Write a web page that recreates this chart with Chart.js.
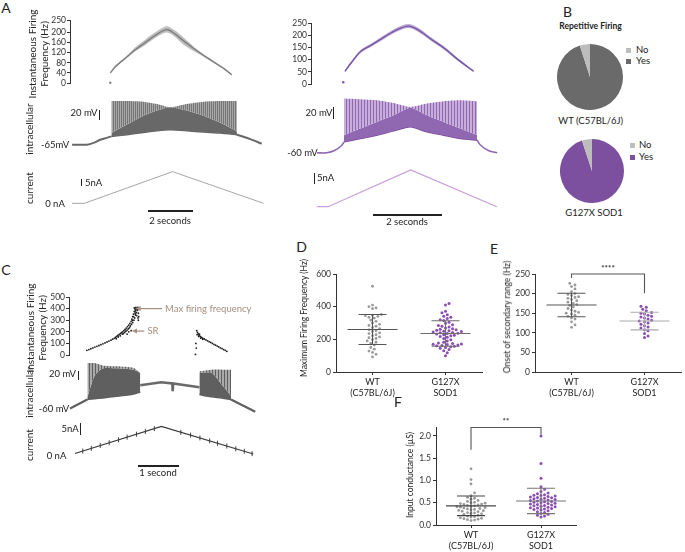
<!DOCTYPE html>
<html><head><meta charset="utf-8">
<script src="https://cdn.jsdelivr.net/npm/chart.js@4.4.0/dist/chart.umd.min.js"></script>
<style>
body{margin:0;width:685px;height:552px;position:relative;background:#fff;overflow:hidden;font-family:Lato,'Liberation Sans',sans-serif;color:#222}
canvas{position:absolute}
.t{position:absolute;white-space:nowrap;line-height:1.15;text-align:center}
.bar{position:absolute;background:#222}
.sq{position:absolute;width:5px;height:5px}
</style></head><body>
<script>
// ---------------- DATA ----------------
// Panel A, WT (C57BL/6J) – time in s, frequency in Hz, membrane potential in mV, current in nA
const wtFreqT   = [1.22,1.47,1.92,2.37,2.82,3.27,3.80,4.17,4.62,5.23,5.82,6.43,6.80];
const wtFreqMid = [40,66,99,132,160,188,212,196,165,126,92,58,33];
const wtFreqHi  = [42,70,103,142,172,200,225,210,178,132,96,61,36];
const wtFreqLo  = [38,62,95,126,150,178,200,185,150,118,88,55,30];
const wtFreqStrayT = [1.22], wtFreqStray = [1];
const wtSpikeT  = [1.22,1.92,2.67,3.27,3.87,4.62,5.37,6.13,6.88];
const wtSpikePeak   = [28.6,28.6,27.2,22.2,15.1,22.2,27.2,28.6,28.6];
const wtSpikeDense  = [-40.2,-22,-3,8,15.1,8,-3,-18,-36.6];
const wtSpikeTrough = [-47.3,-43.7,-38.8,-35.2,-33.1,-35.2,-38,-40.2,-43.7];
const wtPreT = [-0.55,0.12,0.45,0.72,1.0,1.22],  wtPre = [-65,-65,-60.5,-54.4,-50.5,-47.3];
const wtPostT = [6.88,7.48,8.0],         wtPost = [-43.7,-53,-62.9];
const wtCurT = [-0.55,0,3.98,8.08],      wtCur = [0,0,24,0];

// Panel A, G127X SOD1
const gFreqT   = [0.51,0.69,0.98,1.31,1.70,2.04,2.38,2.67,3.05,3.44,3.83,4.31];
const gFreqMid = [52,86,134,161,195,222,237,222,184,147,102,52];
const gFreqHi  = [56,92,140,168,203,231,246,231,192,154,108,56];
const gFreqLo  = [48,80,128,155,188,214,229,214,177,140,96,48];
const gFreqStrayT = [0.46], gFreqStray = [7];
const gSpikeT  = [0.46,0.93,1.41,1.89,2.38,2.86,3.34,3.83,4.31];
const gSpikePeak   = [33.5,32.3,30.6,26,19.2,25,28.9,30.6,28.9];
const gSpikeDense  = [-29.2,-17.8,-6.5,5,18,5,-6.5,-17.8,-29.2];
const gSpikeTrough = [-40.7,-34.9,-29.2,-21.9,-15,-23.6,-29.2,-34.9,-37.8];
const gPreT = [-0.32,-0.04,0.2,0.40,0.46], gPre = [-59.5,-59.5,-55,-46.5,-40.7];
const gPostT = [4.31,4.41,4.65,4.89],      gPost = [-37.8,-46.5,-56,-59.5];
const gCurT = [-0.32,0,2.39,4.88],         gCur = [0,0,17.2,0];

// Panel C
const cFreqT = [0.42,0.47,0.52,0.57,0.62,0.67,0.72,0.77,0.82,0.87,0.92,0.97,1.02,1.06,1.10,1.13,1.16,1.19,1.22,1.25,1.28,1.31,1.34,1.37,1.40,1.43,1.46,1.49,1.52,1.54,1.56,1.58,1.60,1.62,1.64,1.66,1.68,1.70,1.71,
  1.15,1.20,1.25,1.30,1.33,1.36,1.39,1.42,1.45,1.48,1.50,1.53,1.56,1.59,1.61,1.63,1.65,1.67,1.69,1.60,1.63,1.66,1.69,1.70,1.55,1.58,1.62,1.52,1.42,1.46,
  3.12,3.13,3.14,3.15,3.17,3.19,3.21,3.24,3.27,3.30,3.34,3.38,3.42,3.46,3.50,3.54,3.58,3.62,3.66,3.70,3.74,3.78,3.82,3.86,3.90,3.16,3.20,3.22,3.25,3.30];
const cFreq = [40,47,54,61,68,75,82,89,96,104,112,120,128,136,144,152,160,168,176,184,192,200,210,220,232,245,258,272,290,310,330,352,375,395,410,400,385,360,330,
  140,155,165,180,185,195,205,215,225,235,250,265,280,300,320,345,365,390,410,405,380,340,320,300,300,330,360,210,180,200,
  5,100,60,210,195,182,170,160,152,145,138,130,122,115,108,100,92,85,77,70,62,55,47,40,32,175,160,180,145,135];
const cSpike1T = [0.42,0.6,0.8,1.14,1.55,1.71];
const cSpike1Peak = [64.5,64.5,58,55.4,50.8,37.2];
const cSpike1Dense = [-30,30,50,50,46,37.2];
const cSpike1Trough = [-35.5,-33,-30.9,-26.5,-20,-14.6];
const cPlateauT = [1.71,2.22,2.49,2.5,2.51,3.15], cPlateau = [3.6,11.7,8.5,-12.8,8.3,-1.9];
const cSpike2T = [3.15,3.45,3.7,3.92];
const cSpike2Peak = [41.7,46.3,46.3,46.3];
const cSpike2Dense = [37,38,5,-25];
const cSpike2Trough = [-21.9,-28,-31,-35.5];
const cPreT = [0,0.42], cPre = [-60,-35.5];
const cPostT = [3.92,4.51], cPost = [-35.5,-69.1];
const cCurT = [0,2.22,4.58], cCur = [0,14.6,-0.3];
const cTickT = [0.2,0.42,0.65,0.88,1.12,1.34,1.58,1.81,2.04,2.72,2.97,3.21,3.46,3.66,3.9,4.13,4.35,4.55];
const cTickI = [1.3,2.8,4.3,5.8,7.4,8.8,10.4,11.9,13.4,11.4,9.9,8.4,6.8,5.5,4.0,2.5,1.2,-0.1];
const cArrows = [{text:'Max firing frequency', tip:[1.63,400], tail:[2.29,400]}, {text:'SR', tip:[1.54,206], tail:[1.85,206]}];

// Panel B – repetitive firing counts [Yes, No]
const pieLabels = ['Yes','No'];
const pieWT = [38,2];
const pieG = [56,3];

// Panels D, E, F
const groupLabels = [['WT','(C57BL/6J)'],['G127X','SOD1']];
const dWT = [525,410,400,392,388,352,348,345,340,335,330,318,310,300,292,285,280,272,265,258,252,248,240,235,228,222,215,210,205,198,190,182,175,165,150,140,128,120,108,92];
const dG  = [420,410,372,362,350,342,335,328,320,315,305,298,290,285,280,275,270,265,262,258,255,252,250,248,245,242,240,238,235,232,228,225,222,218,212,205,198,190,182,178,175,172,170,168,165,162,160,158,155,150,145,138,130,118,100];
const dMean = [260,236], dSD = [92,78];
const eWT = [226,222,218,212,205,200,198,195,192,190,188,185,182,178,175,172,170,166,162,158,155,152,150,148,145,142,138,135,128,120,114];
const eG  = [168,165,160,156,152,150,148,145,142,140,138,135,132,130,128,125,122,118,115,112,108,105,98,92,88];
const eMean = [171,130], eSD = [30,22.5];
const fWT = [1.26,1.02,0.92,0.72,0.66,0.62,0.6,0.58,0.55,0.53,0.51,0.5,0.49,0.48,0.47,0.46,0.45,0.44,0.43,0.42,0.41,0.4,0.39,0.38,0.37,0.36,0.35,0.34,0.33,0.32,0.31,0.3,0.28,0.27,0.26,0.25,0.24,0.22,0.2,0.19,0.18,0.16,0.15,0.14,0.13,0.12,0.11,0.1];
const fG  = [2.0,1.38,1.05,0.86,0.8,0.75,0.72,0.7,0.68,0.67,0.66,0.65,0.64,0.63,0.62,0.61,0.6,0.59,0.58,0.57,0.56,0.55,0.54,0.53,0.52,0.51,0.5,0.49,0.48,0.47,0.46,0.45,0.44,0.43,0.42,0.41,0.4,0.39,0.38,0.37,0.36,0.35,0.34,0.32,0.3,0.28,0.26,0.24,0.22,0.2,0.18];
const fMean = [0.43,0.54], fSD = [0.22,0.285];
const eSig = {y:250, drops:[240,201], text:'****'};
const fSig = {y:2.19, drops:[1.69,2.03], text:'**'};

// ---------------- helpers ----------------
Chart.defaults.font.family = "Lato, 'Liberation Sans', sans-serif";
Chart.defaults.color = '#333';
const xy = (ts, vs) => ts.map((t,i)=>({x:t,y:vs[i]}));
function mk(left, top, w, h){
  const c=document.createElement('canvas');
  left=Math.round(left); top=Math.round(top); w=Math.round(w); h=Math.round(h);
  c.style.left=left+'px'; c.style.top=top+'px'; c.style.width=w+'px'; c.style.height=h+'px';
  c.width=w; c.height=h; document.body.appendChild(c); return c;
}
function txt(html, x, y, o={}){
  const d=document.createElement('div'); d.className='t'; d.innerHTML=html;
  d.style.left=x+'px'; d.style.top=y+'px'; d.style.fontSize=(o.size||9.5)+'px';
  if(o.bold) d.style.fontWeight='bold'; if(o.color) d.style.color=o.color;
  const ax=o.align==='left'?'0':o.align==='right'?'-100%':'-50%';
  d.style.transform='translate('+ax+',-50%)'+(o.rot?' rotate(-90deg)':'');
  document.body.appendChild(d);
}
function bar(x,y,w,h){const d=document.createElement('div');d.className='bar';d.style.left=x+'px';d.style.top=y+'px';d.style.width=w+'px';d.style.height=h+'px';document.body.appendChild(d);}
function stripes(light, dark, period){
  const p=document.createElement('canvas'); p.width=period; p.height=1; const g=p.getContext('2d');
  g.fillStyle=light; g.fillRect(0,0,period,1); g.fillStyle=dark; g.fillRect(0,0,1,1);
  return g.createPattern(p,'repeat');
}
const baseOpts = () => ({responsive:false, animation:false, devicePixelRatio:1, events:[],
  plugins:{legend:{display:false}, tooltip:{enabled:false}}, elements:{point:{radius:0}}});

function traceChart(col, yc, xr, datasets, plugins){
  const left = col.origin + xr[0]*col.pps, w = (xr[1]-xr[0])*col.pps;
  const top = yc.px0 - (yc.vmax - yc.v0)*yc.ppu, h = (yc.vmax-yc.vmin)*yc.ppu;
  const o = baseOpts(); o.layout={padding:0};
  o.scales={x:{type:'linear',display:false,min:xr[0],max:xr[1]}, y:{display:false,min:yc.vmin,max:yc.vmax}};
  return new Chart(mk(left,top,w,h), {type:'line', data:{datasets}, options:o, plugins:plugins||[]});
}
function freqChart(col, axisX, yc, xmax, ticks, datasets, plugins){
  const W=32, padT=8, padB=8;
  const xmin=(axisX-col.origin)/col.pps;
  const left=axisX-W, width=W+(xmax-xmin)*col.pps;
  const top=yc.px0-yc.vmax*yc.ppu-padT, height=yc.vmax*yc.ppu+padT+padB;
  const o=baseOpts(); o.layout={padding:{top:padT,bottom:padB,left:0,right:0}};
  o.scales={x:{type:'linear',display:false,min:xmin,max:xmax},
    y:{min:0,max:yc.vmax,afterFit:s=>{s.width=W;},afterBuildTicks:s=>{s.ticks=ticks.map(v=>({value:v}));},
      border:{display:true,color:'#333',width:1},
      grid:{display:true,drawOnChartArea:false,drawTicks:true,tickLength:3,color:'#333'},
      ticks:{autoSkip:false,font:{size:8.5},color:'#333',padding:1}}};
  return new Chart(mk(left,top,width,height), {type:'line', data:{datasets}, options:o, plugins:plugins||[]});
}
function band(T,hi,lo,mid,stray,strayV,bandCol,lineCol){
  return [
    {data:xy(T,hi), fill:'+1', backgroundColor:bandCol, borderWidth:0, tension:0.3, clip:false},
    {data:xy(T,lo), fill:false, borderWidth:0, tension:0.3, clip:false},
    {data:xy(T,mid), fill:false, borderColor:lineCol, borderWidth:1.4, tension:0.3, clip:false},
    {data:xy(stray,strayV), showLine:false, pointRadius:1.2, backgroundColor:lineCol, borderWidth:0, clip:false}
  ];
}
function spikes(T,peak,dense,trough,pat,dark,troughCol){
  return [
    {data:xy(T,peak), fill:'+1', backgroundColor:pat, borderWidth:0, tension:0.2, clip:false},
    {data:xy(T,dense), fill:'+1', backgroundColor:dark, borderWidth:0, tension:0.2, clip:false},
    {data:xy(T,trough), fill:false, borderColor:troughCol, borderWidth:1.5, tension:0.2, clip:false}
  ];
}
const line = (T,V,col,w,ten) => ({data:xy(T,V), fill:false, borderColor:col, borderWidth:w, tension:ten||0, clip:false});

// column geometry (pixel position of t=0 and pixels per second)
const colA={origin:84,pps:22.2}, colB={origin:328,pps:34.5}, colC={origin:70,pps:41};

// ---------------- Panel A ----------------
const GRAY='#686868', PUR='#7a4a9d', PURL='#c7aedb', PURM='#9068b2';
freqChart(colA, 70, {px0:83.3, ppu:0.2532, vmax:250}, 8.1, [0,40,80,120,160,200,250],
  band(wtFreqT,wtFreqHi,wtFreqLo,wtFreqMid,wtFreqStrayT,wtFreqStray,'rgba(125,125,125,0.5)','#808080'));
traceChart(colA, {px0:145, v0:-65, ppu:0.47, vmin:-70, vmax:35}, [-0.6,8.1], [
  ...spikes(wtSpikeT,wtSpikePeak,wtSpikeDense,wtSpikeTrough,stripes('#a8a8a8','#767676',2),GRAY,GRAY),
  line(wtPreT,wtPre,GRAY,2,0.3), line(wtPostT,wtPost,GRAY,2,0.3)]);
traceChart(colA, {px0:204, v0:0, ppu:1.33, vmin:-2, vmax:26}, [-0.6,8.1], [line(wtCurT,wtCur,'#a6a6a6',1)]);

freqChart(colB, 311, {px0:84.3, ppu:0.244, vmax:250}, 5.0, [0,50,100,150,200,250],
  band(gFreqT,gFreqHi,gFreqLo,gFreqMid,gFreqStrayT,gFreqStray,'rgba(122,85,168,0.5)','#7a55a8'));
traceChart(colB, {px0:153, v0:-60, ppu:0.585, vmin:-65, vmax:38}, [-0.35,5.0], [
  ...spikes(gSpikeT,gSpikePeak,gSpikeDense,gSpikeTrough,stripes(PURL,PURM,3),PURM,PUR),
  line(gPreT,gPre,PURM,1.6,0.3), line(gPostT,gPost,PURM,1.6,0.3)]);
traceChart(colB, {px0:206, v0:0, ppu:2.13, vmin:-2, vmax:19}, [-0.35,5.0], [line(gCurT,gCur,'#c89ddb',1.2)]);

// ---------------- Panel C ----------------
const arrowPlugin = {id:'arrows', afterDatasetsDraw(chart){
  const {ctx, scales:{x,y}} = chart; ctx.save();
  ctx.strokeStyle='#a48f80'; ctx.fillStyle='#a48f80'; ctx.lineWidth=1.2;
  ctx.font="9.5px Lato, 'Liberation Sans', sans-serif"; ctx.textBaseline='middle';
  cArrows.forEach(a=>{
    const x1=x.getPixelForValue(a.tail[0]), y1=y.getPixelForValue(a.tail[1]);
    const x2=x.getPixelForValue(a.tip[0]), y2=y.getPixelForValue(a.tip[1]);
    ctx.beginPath(); ctx.moveTo(x1,y1); ctx.lineTo(x2+3,y2); ctx.stroke();
    ctx.beginPath(); ctx.moveTo(x2,y2); ctx.lineTo(x2+5,y2-2.5); ctx.lineTo(x2+5,y2+2.5); ctx.closePath(); ctx.fill();
    ctx.fillText(a.text, x1+3, y1);
  }); ctx.restore();
}};
freqChart(colC, 69, {px0:355, ppu:0.1167, vmax:500}, 4.65, [0,100,200,300,400,500],
  [{data:xy(cFreqT,cFreq), showLine:false, pointRadius:0.9, backgroundColor:'#1a1a1a', borderWidth:0, clip:false}], [arrowPlugin]);
traceChart(colC, {px0:409, v0:-60, ppu:0.367, vmin:-75, vmax:70}, [-0.05,4.65], [
  ...spikes(cSpike1T,cSpike1Peak,cSpike1Dense,cSpike1Trough,stripes('#a9a9a9','#5e5e5e',3),'#5f5f5f','#5f5f5f'),
  ...spikes(cSpike2T,cSpike2Peak,cSpike2Dense,cSpike2Trough,stripes('#a9a9a9','#5e5e5e',3),'#5f5f5f','#5f5f5f'),
  line(cPlateauT,cPlateau,'#6a6a6a',2.6), line(cPreT,cPre,'#5f5f5f',2.2), line(cPostT,cPost,'#5f5f5f',2.2)]);
traceChart(colC, {px0:457, v0:0, ppu:2.33, vmin:-3, vmax:17}, [-0.05,4.65], [
  line(cCurT,cCur,'#3a3a3a',1.1),
  {data:xy(cTickT,cTickI), showLine:false, pointStyle:'line', rotation:90, pointRadius:2.5, borderColor:'#444', borderWidth:1, clip:false}]);

// ---------------- Panel B (pies) ----------------
function pie(cx,cy,r,data,colors){
  const o=baseOpts(); o.layout={padding:0};
  new Chart(mk(cx-r,cy-r,2*r,2*r), {type:'pie', data:{labels:pieLabels, datasets:[{data, backgroundColor:colors, borderWidth:0}]}, options:o});
}
pie(590,76.5,33,pieWT,['#6a6a6a','#bdbdbd']);
pie(592.3,170.7,32,pieG,['#7d4f9f','#bdbdbd']);

// ---------------- Panels D, E, F ----------------
function swarm(vals, cat, ppu, ppx, d){
  const placed=[], out=[]; const step=d*0.55;
  vals.slice().sort((a,b)=>a-b).forEach(v=>{
    const py=v*ppu; let off=0;
    for(let k=0;k<60;k++){
      off=(k%2?1:-1)*Math.ceil(k/2)*step;
      if(!placed.some(p=>(p.x-off)**2+(p.y-py)**2<d*d)) break;
    }
    placed.push({x:off,y:py}); out.push({x:cat+off/ppx, y:v});
  });
  return out;
}
function dotChart(cfg){
  const W=30, H=cfg.H;
  const left=cfg.axisX-W, width=cfg.right-left;
  const top=cfg.topPx-cfg.padTop, height=(cfg.botPx-cfg.topPx)+cfg.padTop+H;
  const ppu=(cfg.botPx-cfg.topPx)/cfg.ymax, ppx=(cfg.right-cfg.axisX)/2;
  const o=baseOpts(); o.layout={padding:{top:cfg.padTop,left:0,right:0,bottom:0}};
  o.scales={
    x:{type:'linear',min:0.5,max:2.5,afterFit:s=>{s.height=H;},afterBuildTicks:s=>{s.ticks=[{value:1},{value:2}];},
       border:{display:true,color:'#333',width:1},grid:{display:true,drawOnChartArea:false,drawTicks:true,tickLength:3,color:'#333'},
       ticks:{callback:v=>groupLabels[v-1],font:{size:9},color:'#222',padding:2,maxRotation:0}},
    y:{min:0,max:cfg.ymax,afterFit:s=>{s.width=W;},afterBuildTicks:s=>{s.ticks=cfg.yTicks.map(v=>({value:v}));},
       border:{display:true,color:'#333',width:1},grid:{display:true,drawOnChartArea:false,drawTicks:true,tickLength:3,color:'#333'},
       ticks:{callback:cfg.fmt,font:{size:8.5},color:'#333',padding:2,autoSkip:false}}};
  const statPlugin={id:'stat', afterDatasetsDraw(chart){
    const {ctx, scales:{x,y}}=chart; ctx.save(); ctx.lineWidth=1.1;
    cfg.mean.forEach((m,i)=>{
      const cx=x.getPixelForValue(i+1), pm=y.getPixelForValue(m), hi=y.getPixelForValue(m+cfg.sd[i]), lo=y.getPixelForValue(m-cfg.sd[i]);
      ctx.strokeStyle=cfg.lineCols[i]; ctx.beginPath();
      ctx.moveTo(cx-25,pm); ctx.lineTo(cx+25,pm);
      ctx.moveTo(cx-14,hi); ctx.lineTo(cx+14,hi); ctx.moveTo(cx-14,lo); ctx.lineTo(cx+14,lo);
      ctx.moveTo(cx,hi); ctx.lineTo(cx,lo); ctx.stroke();
    });
    if(cfg.sig){
      const s=cfg.sig, x1=x.getPixelForValue(1), x2=x.getPixelForValue(2), yb=y.getPixelForValue(s.y);
      ctx.strokeStyle='#555'; ctx.beginPath();
      ctx.moveTo(x1,y.getPixelForValue(s.drops[0])); ctx.lineTo(x1,yb); ctx.lineTo(x2,yb); ctx.lineTo(x2,y.getPixelForValue(s.drops[1])); ctx.stroke();
      ctx.fillStyle='#333'; ctx.font="bold 8px Lato, 'Liberation Sans', sans-serif"; ctx.textAlign='center'; ctx.textBaseline='middle';
      ctx.fillText(s.text,(x1+x2)/2,yb-6);
    }
    ctx.restore();
  }};
  const ds=[
    {data:swarm(cfg.wt,1,ppu,ppx,3.3), backgroundColor:'#999', pointRadius:1.4, borderWidth:0, clip:false},
    {data:swarm(cfg.g,2,ppu,ppx,3.3), backgroundColor:'#8a4db3', pointRadius:1.5, borderWidth:0, clip:false}];
  new Chart(mk(left,top,width,height), {type:'scatter', data:{datasets:ds}, options:o, plugins:[statPlugin]});
}
dotChart({axisX:336,right:486,topPx:274,botPx:371.7,ymax:600,yTicks:[0,200,400,600],fmt:v=>String(v),padTop:10,H:30,
  wt:dWT,g:dG,mean:dMean,sd:dSD,lineCols:['#555','#6d6d6d']});
dotChart({axisX:535,right:685,topPx:274,botPx:371.7,ymax:250,yTicks:[0,50,100,150,200,250],fmt:v=>String(v),padTop:20,H:30,
  wt:eWT,g:eG,mean:eMean,sd:eSD,lineCols:['#555','#aaa'],sig:eSig});
dotChart({axisX:436,right:580,topPx:525.3-2.2*44.5,botPx:525.3,ymax:2.2,yTicks:[0,0.5,1,1.5,2],fmt:v=>v.toFixed(1),padTop:14,H:27,
  wt:fWT,g:fG,mean:fMean,sd:fSD,lineCols:['#444','#777'],sig:fSig});

// ---------------- Text, scale bars ----------------
txt('A',6,8,{size:14}); txt('B',567.5,12,{size:14}); txt('C',6,270,{size:14});
txt('D',301.5,247,{size:14}); txt('E',494,248.5,{size:14}); txt('F',398,402,{size:14});
txt('Instantaneous Firing<br>Frequency (Hz)',37.5,54,{rot:true,size:10});
txt('intracellular',30,129,{rot:true,size:10}); txt('current',30,188,{rot:true,size:10});
txt('Instantaneous Firing<br>Frequency (Hz)',36,328,{rot:true,size:10});
txt('intracellular',30,392,{rot:true,size:10}); txt('current',30,445,{rot:true,size:10});
txt('Maximum Firing Frequency (Hz)',305,318,{rot:true,size:8.5});
txt('Onset of secondary range (Hz)',508,317,{rot:true,size:8.5});
txt('Input conductance (\u00b5S)',411,475,{rot:true,size:8.5});
// A left
txt('20 mV',84,113); bar(98.5,110,1.5,9.5);
txt('-65mV',55,145);
bar(81,179,1.2,7); txt('5nA',85,183,{align:'left'});
txt('0 nA',55,204);
bar(148,210,45,2); txt('2 seconds',170,221);
// A right
txt('20 mV',319,113); bar(332.5,106.5,1.5,12);
txt('-60 mV',302.5,153);
bar(313.5,173,1.2,10.5); txt('5nA',317,178,{align:'left'});
bar(373,214,69,2); txt('2 seconds',407,222);
// C
txt('20 mV',62.5,374); bar(77.5,370.5,1.5,9);
txt('-60 mV',54,409);
txt('5nA',70,429); bar(79.5,423,1.2,12);
txt('0 nA',56.5,456);
bar(138,465,41,1.6); txt('1 second',158,473);
// B
txt('Repetitive Firing',590.5,27,{bold:true,size:8.5});
function sq(x,y,c){const d=document.createElement('div');d.className='sq';d.style.left=x+'px';d.style.top=y+'px';d.style.background=c;document.body.appendChild(d);}
sq(626,47.5,'#bdbdbd'); txt('No',636,50,{align:'left'});
sq(626,58.7,'#6a6a6a'); txt('Yes',636,61.3,{align:'left'});
txt('WT (C57BL/6J)',590.7,121);
sq(629.5,142.5,'#bdbdbd'); txt('No',639,145,{align:'left'});
sq(629.5,154.5,'#7d4f9f'); txt('Yes',639,157,{align:'left'});
txt('G127X SOD1',594,213);
</script>
</body></html>
